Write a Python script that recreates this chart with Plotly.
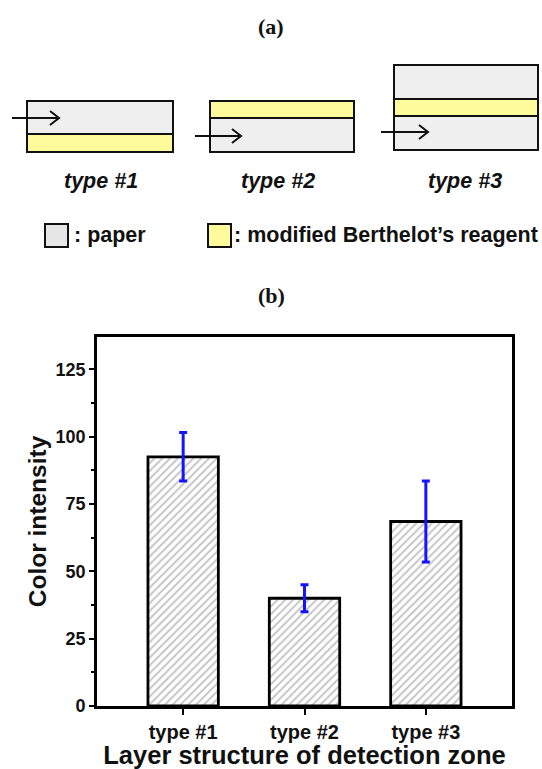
import plotly.graph_objects as go

# ---------------- data ----------------
categories = ["type #1", "type #2", "type #3"]
intensity = [92.5, 40.0, 68.5]
intensity_err = [9.0, 5.0, 15.0]
ytick_vals = [0, 25, 50, 75, 100, 125]
ytick_text = ["0", "25", "50", "75", "100", "125"]

diagram_labels = ["type #1", "type #2", "type #3"]
legend_labels = [": paper", ": modified Berthelot\u2019s reagent"]

# ---------------- styling / layout ----------------
W, H = 542, 769
ML, MR, MT, MB = 97, 30, 337, 63
PW, PH = W - ML - MR, H - MT - MB
SANS = "Liberation Sans, Arial, sans-serif"
SERIF = "Liberation Serif, Times New Roman, serif"
GRAY = "#efeff0"
YELLOW = "#fdfb9c"
INK = "#111111"


def px(x):
    return (x - ML) / PW


def py(y):
    return (H - MB - y) / PH


fig = go.Figure()
fig.add_trace(go.Bar(
    x=categories, y=intensity, width=0.58,
    marker=dict(color="white",
                line=dict(color="black", width=2.8),
                pattern=dict(shape="/", fgcolor="#8c8c8c", bgcolor="white",
                             size=5.5, solidity=0.35)),
    error_y=dict(type="data", array=intensity_err, visible=True,
                 color="#1414ff", thickness=3, width=4),
    showlegend=False,
))

shapes = []
annotations = []


def rect(x0, y0, x1, y1, fill):
    shapes.append(dict(type="rect", xref="paper", yref="paper",
                       x0=px(x0), x1=px(x1), y0=py(y0), y1=py(y1),
                       fillcolor=fill, line=dict(color=INK, width=2),
                       layer="above"))


def arrow(x0, x1, y):
    path = (f"M{px(x0)},{py(y)} L{px(x1)},{py(y)} "
            f"M{px(x1 - 9)},{py(y - 7)} L{px(x1)},{py(y)} L{px(x1 - 9)},{py(y + 7)}")
    shapes.append(dict(type="path", xref="paper", yref="paper", path=path,
                       line=dict(color=INK, width=2)))


# type #1 : paper on top, reagent below
rect(27, 101, 173, 134, GRAY)
rect(27, 134, 173, 152, YELLOW)
arrow(12, 59, 118)
# type #2 : reagent on top, paper below
rect(210, 101, 354, 118, YELLOW)
rect(210, 118, 354, 152, GRAY)
arrow(195, 241, 136)
# type #3 : paper, reagent, paper
rect(394, 65, 538, 99, GRAY)
rect(394, 99, 538, 116, YELLOW)
rect(394, 116, 538, 150, GRAY)
arrow(381, 428, 132)

for lab, xc in zip(diagram_labels, [101, 278, 465]):
    annotations.append(dict(text=lab, xref="paper", yref="paper",
                            x=px(xc), y=py(181), showarrow=False,
                            xanchor="center", yanchor="middle",
                            font=dict(family=SANS, size=21.5, color=INK,
                                      weight="bold", style="italic")))

# legend of the diagram
rect(45, 224, 68, 247, "#e6e6e6")
rect(208, 224, 231, 247, YELLOW)
annotations.append(dict(text=legend_labels[0], xref="paper", yref="paper",
                        x=px(72), y=py(235), showarrow=False,
                        xanchor="left", yanchor="middle",
                        font=dict(family=SANS, size=21.5, color=INK, weight="bold")))
annotations.append(dict(text=legend_labels[1], xref="paper", yref="paper",
                        x=px(232), y=py(235), showarrow=False,
                        xanchor="left", yanchor="middle",
                        font=dict(family=SANS, size=21.5, color=INK, weight="bold")))

# panel labels
annotations.append(dict(text="(a)", xref="paper", yref="paper",
                        x=px(271), y=py(26), showarrow=False,
                        xanchor="center", yanchor="middle",
                        font=dict(family=SERIF, size=22, color=INK, weight="bold")))
annotations.append(dict(text="(b)", xref="paper", yref="paper",
                        x=px(271), y=py(295), showarrow=False,
                        xanchor="center", yanchor="middle",
                        font=dict(family=SERIF, size=22, color=INK, weight="bold")))

fig.update_layout(
    width=W, height=H,
    margin=dict(l=ML, r=MR, t=MT, b=MB),
    paper_bgcolor="white", plot_bgcolor="white",
    shapes=shapes, annotations=annotations,
    xaxis=dict(range=[-0.71, 2.71], showline=True, mirror=True, automargin=False,
               linecolor="black", linewidth=2.8, ticks="outside",
               ticklen=6, tickwidth=2, tickcolor="black", showgrid=False,
               tickfont=dict(family=SANS, size=20, color=INK, weight="bold"),
               title=dict(text="Layer structure of detection zone", standoff=7,
                          font=dict(family=SANS, size=25.5, color=INK, weight="bold"))),
    yaxis=dict(range=[0, 137], showline=True, mirror=True, automargin=False,
               linecolor="black", linewidth=2.8, ticks="outside",
               ticklen=5, tickwidth=2, tickcolor="black", showgrid=False,
               zeroline=False,
               tickvals=ytick_vals, ticktext=ytick_text,
               minor=dict(dtick=12.5, ticks="outside", ticklen=3, tickwidth=1.5,
                          tickcolor="black", showgrid=False),
               tickfont=dict(family=SANS, size=18, color=INK, weight="bold"),
               title=dict(text="Color intensity", standoff=2,
                          font=dict(family=SANS, size=24.5, color=INK, weight="bold"))),
)

fig.write_html("out.html")
